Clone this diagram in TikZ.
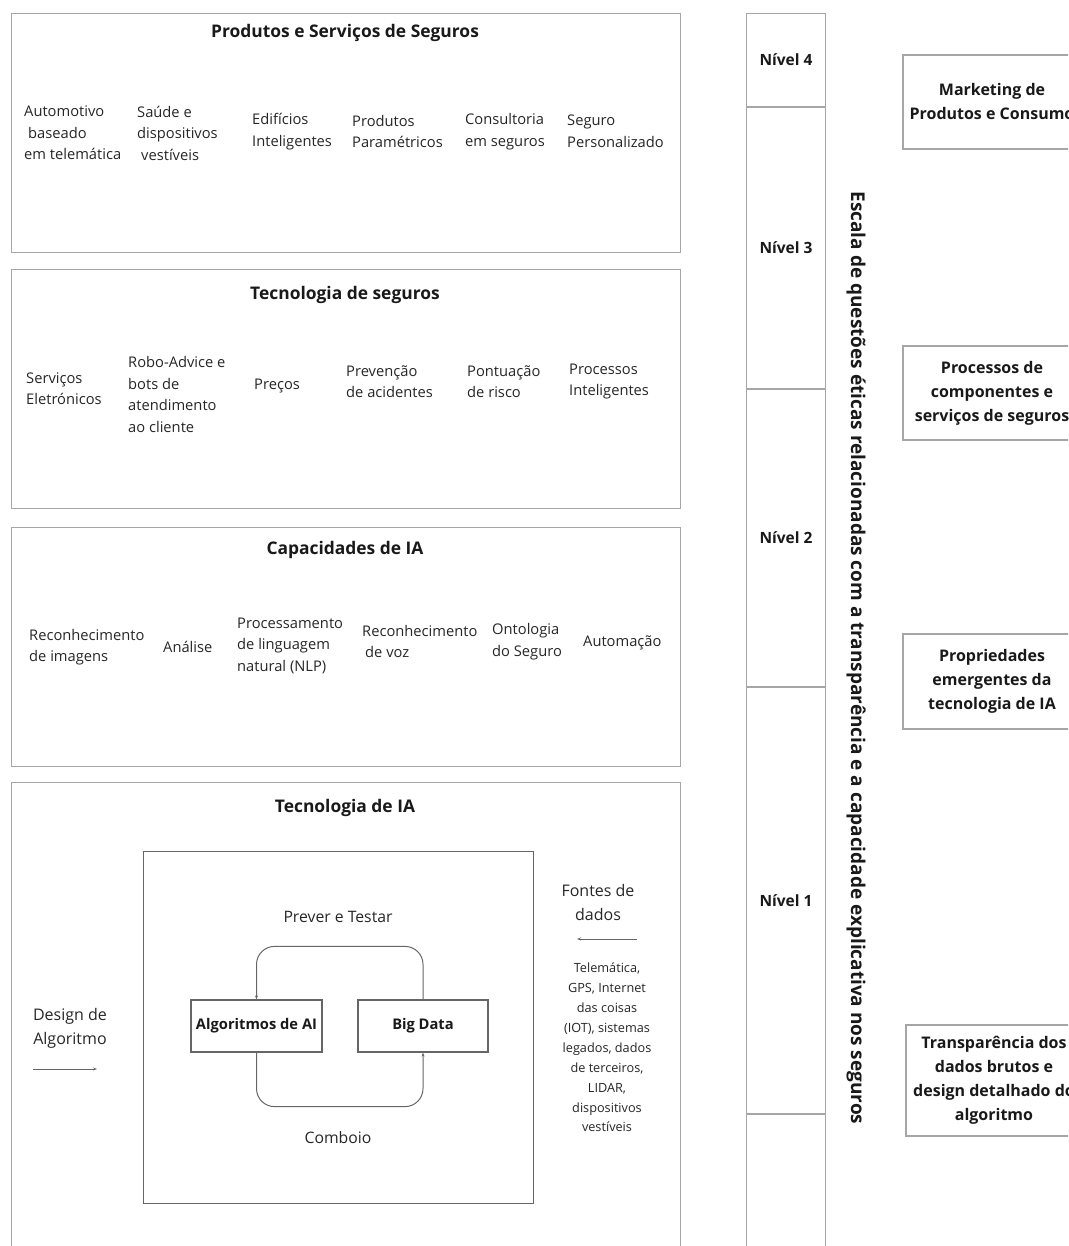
\documentclass[tikz,border=0pt]{standalone}
\usepackage{fontspec}
\setmainfont{Open Sans}
\usetikzlibrary{arrows.meta}
\begin{document}
\begin{tikzpicture}[x=1pt,y=-1pt]
\tikzset{
  panel/.style={draw=gray!70, line width=1.3pt, minimum width=669pt, minimum height=239pt, anchor=north west, inner sep=0pt},
  ptitle/.style={font=\fontsize{17.4}{21}\selectfont\bfseries, text=black!90, inner sep=0pt},
  item/.style={font=\fontsize{14.7}{21.5}\selectfont, align=left, anchor=west, inner sep=0pt, text=black!85},
  lvl/.style={draw=gray!70, line width=1.3pt, minimum width=79pt, inner sep=0pt, font=\fontsize{15.5}{19}\selectfont\bfseries, text=black!90},
  sidebox/.style={draw=gray!70, line width=1.3pt, inner sep=0pt, align=center, font=\fontsize{16}{24}\selectfont\bfseries, text=black!90},
  algbox/.style={draw=gray!80!black, line width=1.2pt, minimum width=131pt, minimum height=52pt, inner sep=0pt, font=\fontsize{14.7}{18}\selectfont\bfseries, text=black!90},
  ctext/.style={align=center, inner sep=0pt, text=black!85},
  arr/.style={draw=gray!80!black, line width=1pt, -{Stealth[length=4pt,width=3pt]}}
}
\useasboundingbox (0,0) rectangle (1068,1246);
\clip (0,0) rectangle (1068,1246);

% ---------- Panel 1 ----------
\node[panel] (p1) at (11,13) {};
\node[ptitle] (t1) at (345,33) {Produtos e Serviços de Seguros};
\node[item] (a1) at (24,133) {Automotivo\\\hspace*{4pt}baseado\\em telemática};
\node[item] (a2) at (137,133) {Saúde e\\dispositivos\\\hspace*{4pt}vestíveis};
\node[item] (a3) at (252,131.5) {Edifícios\\Inteligentes};
\node[item] (a4) at (352,131.5) {Produtos\\Paramétricos};
\node[item] (a5) at (465,131.5) {Consultoria\\em seguros};
\node[item] (a6) at (567,131.5) {Seguro\\Personalizado};

% ---------- Panel 2 ----------
\node[panel] (p2) at (11,269) {};
\node[ptitle] (t2) at (345,295) {Tecnologia de seguros};
\node[item] (b1) at (26,388.5) {Serviços\\Eletrónicos};
\node[item] (b2) at (128,394.5) {Robo-Advice e\\bots de\\atendimento\\ao cliente};
\node[item] (b3) at (254,386) {Preços};
\node[item] (b4) at (346,381.5) {Prevenção\\de acidentes};
\node[item] (b5) at (467,381.5) {Pontuação\\de risco};
\node[item] (b6) at (569,381.5) {Processos\\Inteligentes};

% ---------- Panel 3 ----------
\node[panel] (p3) at (11,527) {};
\node[ptitle] (t3) at (345,550) {Capacidades de IA};
\node[item] (c1) at (29,647) {Reconhecimento\\de imagens};
\node[item] (c2) at (163,647) {Análise};
\node[item] (c3) at (237,645.5) {Processamento\\de linguagem\\natural (NLP)};
\node[item] (c4) at (362,641.5) {Reconhecimento\\\hspace*{3pt}de voz};
\node[item] (c5) at (492,641.5) {Ontologia\\do Seguro};
\node[item] (c6) at (583,643) {Automação};

% ---------- Panel 4 ----------
\node[panel, minimum height=520pt] (p4) at (11,782) {};
\node[ptitle] (t4) at (345,808) {Tecnologia de IA};
\node[draw=gray!80!black, line width=1.2pt, minimum width=390pt, minimum height=352pt, anchor=north west, inner sep=0pt] (inner) at (143,851) {};
\node[ctext, font=\fontsize{15.75}{20}\selectfont] (pt) at (338,917) {Prever e Testar};
\node[ctext, font=\fontsize{15.75}{20}\selectfont] (cb) at (338,1138) {Comboio};
\node[algbox] (alg) at (256.5,1026) {Algoritmos de AI};
\node[algbox, minimum width=130pt] (bd) at (423,1026) {Big Data};
\draw[arr, rounded corners=18pt] (bd.north) -- ++(0,-53) -| (alg.north);
\draw[arr, rounded corners=18pt] (alg.south) -- ++(0,54) -| (bd.south);

\node[ctext, font=\fontsize{16}{24}\selectfont] (dz) at (70,1028) {Design de\\Algoritmo};
\coordinate (dz1) at (33,1069);
\coordinate (dz2) at (97,1069);
\draw[arr] (dz1) -- (dz2);

\node[ctext, font=\fontsize{16}{24}\selectfont] (fd) at (598,902) {Fontes de\\dados};
\coordinate (fd1) at (637,939);
\coordinate (fd2) at (577,939);
\draw[arr] (fd1) -- (fd2);
\node[ctext, font=\fontsize{12.7}{19.9}\selectfont] (src) at (607,1047.5) {Telemática,\\GPS, Internet\\das coisas\\(IOT), sistemas\\legados, dados\\de terceiros,\\LIDAR,\\dispositivos\\vestíveis};

% ---------- Levels column ----------
\node[lvl, minimum height=92.7pt, anchor=north] (n4) at (786,13) {Nível 4};
\node[lvl, minimum height=280.7pt, anchor=north] (n3) at (n4.south) {Nível 3};
\node[lvl, minimum height=296.7pt, anchor=north] (n2) at (n3.south) {Nível 2};
\node[lvl, minimum height=425.7pt, anchor=north] (n1) at (n2.south) {Nível 1};
\node[lvl, minimum height=200pt, anchor=north] (n0) at (n1.south) {};

\node[rotate=-90, font=\fontsize{19}{23}\selectfont\bfseries, text=black!90, inner sep=0pt] (scale) at (856,658) {Escala de questões éticas relacionadas com a transparência e a capacidade explicativa nos seguros};

% ---------- Side boxes ----------
\node[sidebox, minimum width=178pt, minimum height=94pt] (s4) at (992,102) {Marketing de\\Produtos e Consumo};
\node[sidebox, minimum width=178pt, minimum height=94pt] (s3) at (992,393) {Processos de\\componentes e\\serviços de seguros};
\node[sidebox, minimum width=178pt, minimum height=95pt] (s2) at (992,681.5) {Propriedades\\emergentes da\\tecnologia de IA};
\node[sidebox, minimum width=176pt, minimum height=111pt] (s1) at (994,1080.5) {Transparência dos\\dados brutos e\\design detalhado do\\algoritmo};
\end{tikzpicture}
\end{document}
